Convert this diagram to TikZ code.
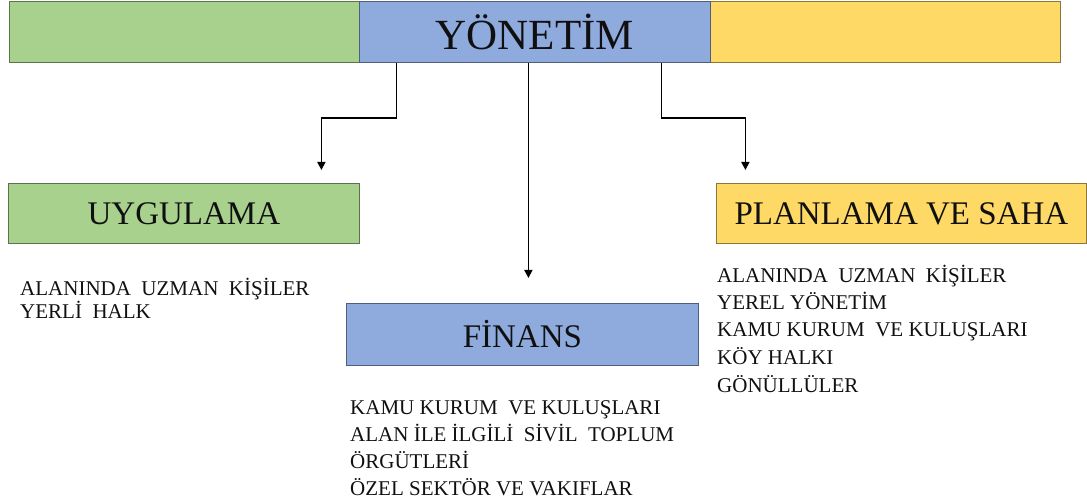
\documentclass[tikz,border=0pt]{standalone}
\usepackage{fontspec}
\setmainfont{Liberation Serif}
\usetikzlibrary{arrows.meta}
\definecolor{cgreen}{HTML}{A9D18E}
\definecolor{cblue}{HTML}{8FAADC}
\definecolor{cyellow}{HTML}{FFD966}
\definecolor{ctext}{HTML}{101010}
\tikzset{
  box/.style={draw=#1!55!black, fill=#1, line width=0.8pt, anchor=north west, inner sep=0pt, text=ctext},
  list/.style={anchor=base west, inner sep=0pt, align=left, text=ctext},
  arr/.style={line width=1.6pt, -{Triangle[width=8pt,length=8pt]}},
}
\begin{document}
\begin{tikzpicture}[x=1pt,y=-1pt]
\useasboundingbox (0,0) rectangle (1087,502);
% top bar
\node[box=cgreen, minimum width=350pt, minimum height=61pt] (topg) at (9,1) {};
\node[box=cyellow, minimum width=350pt, minimum height=61pt] (topy) at (710,1) {};
\node[box=cblue, minimum width=351pt, minimum height=61pt, font=\fontsize{43}{43}\selectfont] (yon) at (359,1) {YÖNETİM};
% boxes
\node[box=cgreen, minimum width=351pt, minimum height=60pt, font=\fontsize{33}{33}\selectfont] (uyg) at (8,183) {UYGULAMA};
\node[box=cblue, minimum width=352pt, minimum height=62pt, font=\fontsize{33}{33}\selectfont] (fin) at (346,303) {FİNANS};
\node[box=cyellow, minimum width=370pt, minimum height=60pt, font=\fontsize{33}{33}\selectfont] (plan) at (716,183) {PLANLAMA VE SAHA};
% lists (anchored at the baseline of their last line)
\node[list, font=\fontsize{21}{23.5}\selectfont] (luyg) at (20,319) {ALANINDA\ \ UZMAN\ \ KİŞİLER\\YERLİ\ \ HALK};
\node[list, font=\fontsize{21}{26.7}\selectfont] (lfin) at (350,495) {KAMU\ KURUM\ \ VE KULUŞLARI\\ALAN\ İLE\ İLGİLİ\ \ SİVİL\ \ TOPLUM\\ÖRGÜTLERİ\\ÖZEL\ SEKTÖR\ VE\ VAKIFLAR};
\node[list, font=\fontsize{21}{27.5}\selectfont] (lplan) at (717,392) {ALANINDA\ \ UZMAN\ \ KİŞİLER\\YEREL\ YÖNETİM\\KAMU\ KURUM\ \ VE KULUŞLARI\\KÖY\ HALKI\\GÖNÜLLÜLER};
% connectors
\draw[arr] ([xshift=-138.5pt]yon.south) -- ++(0,55) -| ([xshift=137.5pt,yshift=13pt]uyg.north);
\draw[arr] ([xshift=-6.5pt]yon.south) -- ([xshift=6pt,yshift=25pt]fin.north);
\draw[arr] ([xshift=126.5pt]yon.south) -- ++(0,55) -| ([xshift=-156pt,yshift=13pt]plan.north);
\end{tikzpicture}
\end{document}
